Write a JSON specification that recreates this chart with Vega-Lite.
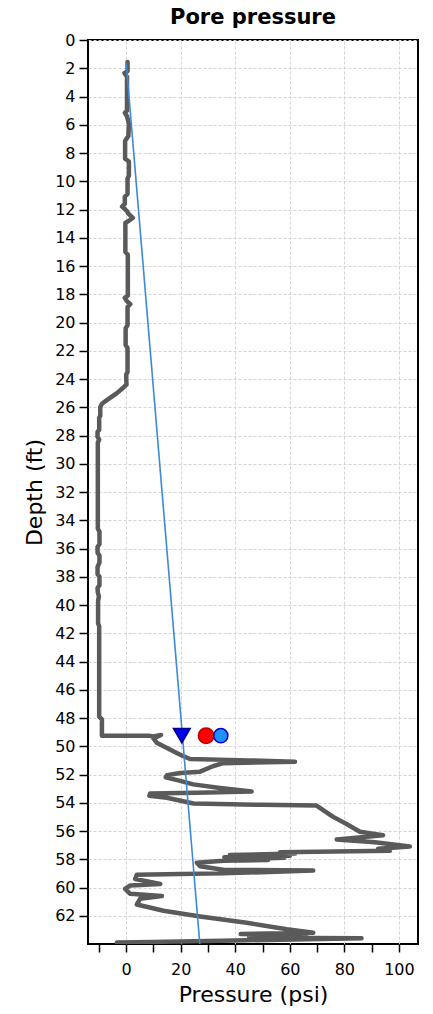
{
  "$schema": "https://vega.github.io/schema/vega-lite/v6.json",
  "width": 330,
  "height": 904,
  "autosize": {"type": "none"},
  "padding": {"left": 88, "top": 40, "right": 15, "bottom": 70},
  "title": {"text": "Pore pressure", "fontSize": 21, "fontWeight": "bold", "font": "DejaVu Sans", "color": "black", "anchor": "middle", "offset": 4},
  "datasets": {
    "pore": [
      {"p": 0.5, "d": 1.55}, {"p": 0.5, "d": 2.2}, {"p": -0.6, "d": 2.35}, {"p": 0.3, "d": 2.6},
      {"p": 0.3, "d": 5.0}, {"p": -0.5, "d": 5.15}, {"p": 0.3, "d": 5.4}, {"p": 1.0, "d": 5.95},
      {"p": 0.8, "d": 6.8}, {"p": -0.4, "d": 7.15}, {"p": -0.4, "d": 8.4}, {"p": 1.0, "d": 8.6},
      {"p": 1.0, "d": 9.6}, {"p": 0.5, "d": 9.8}, {"p": 0.5, "d": 10.9}, {"p": -0.5, "d": 11.1},
      {"p": -0.5, "d": 11.6}, {"p": -1.5, "d": 11.8}, {"p": 0.2, "d": 12.1}, {"p": 0.8, "d": 12.3},
      {"p": 2.4, "d": 12.6}, {"p": 1.0, "d": 12.8}, {"p": -0.3, "d": 12.95}, {"p": -0.3, "d": 15.0},
      {"p": 0.6, "d": 15.2}, {"p": 0.6, "d": 18.1}, {"p": -0.5, "d": 18.25}, {"p": 0.3, "d": 18.5},
      {"p": 1.5, "d": 18.7}, {"p": 0.5, "d": 18.9}, {"p": 0.5, "d": 20.2}, {"p": -0.2, "d": 20.4},
      {"p": -0.2, "d": 21.6}, {"p": 0.5, "d": 21.8}, {"p": 0.5, "d": 23.5}, {"p": 0.0, "d": 23.7},
      {"p": 0.1, "d": 24.4}, {"p": -1.0, "d": 24.6}, {"p": -3.4, "d": 25.0}, {"p": -7.1, "d": 25.5},
      {"p": -8.9, "d": 25.75}, {"p": -9.5, "d": 26.0}, {"p": -9.5, "d": 26.6}, {"p": -9.9, "d": 26.75},
      {"p": -9.9, "d": 27.6}, {"p": -10.5, "d": 27.75}, {"p": -10.5, "d": 28.1}, {"p": -9.9, "d": 28.3},
      {"p": -10.4, "d": 28.5}, {"p": -10.4, "d": 34.6}, {"p": -9.8, "d": 34.8}, {"p": -9.8, "d": 35.7},
      {"p": -10.5, "d": 35.9}, {"p": -10.5, "d": 36.3}, {"p": -9.8, "d": 36.5}, {"p": -9.8, "d": 37.0},
      {"p": -10.5, "d": 37.3}, {"p": -10.5, "d": 37.8}, {"p": -9.8, "d": 38.0}, {"p": -9.8, "d": 38.6},
      {"p": -10.5, "d": 38.8}, {"p": -10.4, "d": 39.1}, {"p": -10.0, "d": 39.4}, {"p": -10.3, "d": 39.7},
      {"p": -10.3, "d": 41.3}, {"p": -9.9, "d": 41.5}, {"p": -9.9, "d": 47.9}, {"p": -8.9, "d": 48.1},
      {"p": -8.9, "d": 49.25}, {"p": 8.2, "d": 49.25}, {"p": 10.0, "d": 49.3}, {"p": 12.8, "d": 49.2},
      {"p": 10.0, "d": 49.45}, {"p": 11.2, "d": 49.75}, {"p": 19.8, "d": 50.6}, {"p": 23.4, "d": 50.9},
      {"p": 45.0, "d": 51.0}, {"p": 61.9, "d": 51.1}, {"p": 35.6, "d": 51.2}, {"p": 32.0, "d": 51.4},
      {"p": 27.1, "d": 51.8}, {"p": 19.8, "d": 51.9}, {"p": 14.9, "d": 52.05}, {"p": 14.5, "d": 52.2},
      {"p": 19.8, "d": 52.45}, {"p": 24.6, "d": 52.7}, {"p": 34.4, "d": 52.95}, {"p": 46.0, "d": 53.2},
      {"p": 25.9, "d": 53.3}, {"p": 8.8, "d": 53.35}, {"p": 8.5, "d": 53.5}, {"p": 14.9, "d": 53.65},
      {"p": 24.7, "d": 54.05}, {"p": 50.0, "d": 54.15}, {"p": 69.8, "d": 54.2}, {"p": 75.9, "d": 55.0},
      {"p": 80.8, "d": 55.5}, {"p": 85.7, "d": 56.05}, {"p": 94.2, "d": 56.3}, {"p": 77.2, "d": 56.6},
      {"p": 91.2, "d": 56.8}, {"p": 104.0, "d": 57.1}, {"p": 92.4, "d": 57.25}, {"p": 96.7, "d": 57.4},
      {"p": 56.4, "d": 57.5}, {"p": 62.0, "d": 57.6}, {"p": 38.0, "d": 57.7}, {"p": 60.0, "d": 57.75},
      {"p": 36.0, "d": 57.85}, {"p": 58.0, "d": 57.9}, {"p": 40.0, "d": 58.0}, {"p": 52.0, "d": 58.05},
      {"p": 35.6, "d": 58.1}, {"p": 25.9, "d": 58.25}, {"p": 27.1, "d": 58.5}, {"p": 35.6, "d": 58.75},
      {"p": 68.6, "d": 58.8}, {"p": 35.6, "d": 59.0}, {"p": 20.0, "d": 59.05}, {"p": 3.9, "d": 59.1},
      {"p": 3.3, "d": 59.4}, {"p": 12.5, "d": 59.75}, {"p": 1.5, "d": 59.85}, {"p": -0.4, "d": 60.1},
      {"p": 1.5, "d": 60.45}, {"p": 13.1, "d": 60.6}, {"p": 5.1, "d": 60.8}, {"p": 3.9, "d": 61.2},
      {"p": 13.7, "d": 61.65}, {"p": 27.1, "d": 62.05}, {"p": 44.2, "d": 62.5}, {"p": 58.9, "d": 62.95},
      {"p": 68.6, "d": 63.2}, {"p": 42.0, "d": 63.3}, {"p": 66.0, "d": 63.35}, {"p": 45.0, "d": 63.45},
      {"p": 65.0, "d": 63.5}, {"p": 48.0, "d": 63.55}, {"p": 86.3, "d": 63.6}, {"p": 40.0, "d": 63.75},
      {"p": 10.0, "d": 63.85}, {"p": -3.4, "d": 63.9}
    ],
    "hydro": [
      {"p": 0.0, "d": 1.6},
      {"p": 27.0, "d": 64.0}
    ],
    "markers": [
      {"p": 20.4, "d": 49.25, "kind": "hydrostatic"},
      {"p": 29.3, "d": 49.25, "kind": "measured"},
      {"p": 34.7, "d": 49.25, "kind": "estimated"}
    ]
  },
  "encoding": {
    "x": {
      "field": "p", "type": "quantitative",
      "scale": {"domain": [-14, 107], "nice": false, "zero": false},
      "axis": {
        "title": "Pressure (psi)",
        "values": [-10, 0, 10, 20, 30, 40, 50, 60, 70, 80, 90, 100],
        "labelExpr": "datum.value % 20 == 0 ? datum.label : ''",
        "gridOpacity": {"condition": {"test": "datum.value % 20 != 0", "value": 0}, "value": 1},
        "tickSize": 8,
        "labelPadding": 9,
        "titlePadding": 7
      }
    },
    "y": {
      "field": "d", "type": "quantitative",
      "scale": {"domain": [0, 64], "nice": false, "zero": false, "reverse": true},
      "axis": {
        "title": "Depth (ft)",
        "values": [0, 2, 4, 6, 8, 10, 12, 14, 16, 18, 20, 22, 24, 26, 28, 30, 32, 34, 36, 38, 40, 42, 44, 46, 48, 50, 52, 54, 56, 58, 60, 62],
        "tickSize": 9,
        "labelPadding": 4,
        "titlePadding": 8
      }
    }
  },
  "layer": [
    {
      "data": {"name": "pore"},
      "mark": {"type": "line", "color": "#5a5a5a", "strokeWidth": 4.5, "strokeJoin": "round", "strokeCap": "round", "clip": true},
      "encoding": {"order": {"value": null}}
    },
    {
      "data": {"name": "hydro"},
      "mark": {"type": "line", "color": "#3c8ad6", "strokeWidth": 1.6, "clip": true},
      "encoding": {"order": {"value": null}}
    },
    {
      "data": {"name": "markers"},
      "mark": {"type": "point", "filled": true, "strokeWidth": 1.5, "opacity": 1},
      "encoding": {
        "shape": {"field": "kind", "type": "nominal", "legend": null,
          "scale": {"domain": ["hydrostatic", "measured", "estimated"], "range": ["triangle-down", "circle", "circle"]}},
        "size": {"field": "kind", "type": "nominal", "legend": null,
          "scale": {"domain": ["hydrostatic", "measured", "estimated"], "range": [280, 200, 200]}},
        "fill": {"field": "kind", "type": "nominal", "legend": null,
          "scale": {"domain": ["hydrostatic", "measured", "estimated"], "range": ["#0000ee", "#ff0000", "#1e90ff"]}},
        "stroke": {"field": "kind", "type": "nominal", "legend": null,
          "scale": {"domain": ["hydrostatic", "measured", "estimated"], "range": ["#00008b", "#c00000", "#0000cd"]}}
      }
    }
  ],
  "config": {
    "font": "DejaVu Sans",
    "view": {"stroke": "black", "strokeWidth": 2},
    "axis": {
      "domain": false,
      "tickColor": "black",
      "tickWidth": 1.5,
      "labelColor": "black",
      "labelFontSize": 16,
      "labelFont": "DejaVu Sans",
      "titleColor": "black",
      "titleFontSize": 22,
      "titleFontWeight": "normal",
      "titleFont": "DejaVu Sans",
      "gridColor": "#d4d4d4",
      "gridDash": [3, 2],
      "gridWidth": 1
    }
  }
}
